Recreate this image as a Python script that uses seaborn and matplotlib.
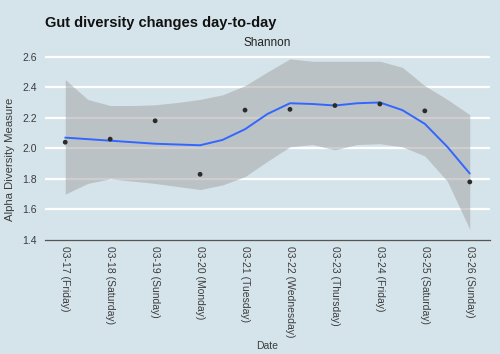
import numpy as np
import pandas as pd
import matplotlib.pyplot as plt
import seaborn as sns

# ---------------------------------------------------------------------------
# Data
# ---------------------------------------------------------------------------
dates = ["03-17 (Friday)", "03-18 (Saturday)", "03-19 (Sunday)", "03-20 (Monday)",
         "03-21 (Tuesday)", "03-22 (Wednesday)", "03-23 (Thursday)", "03-24 (Friday)",
         "03-25 (Saturday)", "03-26 (Sunday)"]
shannon = [2.04, 2.06, 2.18, 1.83, 2.25, 2.255, 2.28, 2.29, 2.245, 1.78]

# smoothed fit and its confidence band, read at every half day
fit_pos = [0, 0.5, 1, 1.5, 2, 2.5, 3, 3.5, 4, 4.5, 5, 5.5, 6, 6.5, 7, 7.5, 8, 8.5, 9]
fit_mid = [2.07, 2.06, 2.05, 2.04, 2.03, 2.025, 2.02, 2.055, 2.125, 2.225, 2.295,
           2.29, 2.28, 2.295, 2.30, 2.25, 2.16, 2.01, 1.835]
fit_hi = [2.45, 2.32, 2.28, 2.28, 2.285, 2.30, 2.32, 2.35, 2.41, 2.50, 2.585,
          2.57, 2.57, 2.57, 2.57, 2.53, 2.41, 2.32, 2.22]
fit_lo = [1.70, 1.77, 1.80, 1.785, 1.77, 1.75, 1.73, 1.76, 1.815, 1.915, 2.01,
          2.025, 1.99, 2.025, 2.03, 2.01, 1.95, 1.785, 1.47]

BG = "#d5e4eb"
TXT = "#3c3c3c"

sns.set_style("white")
plt.rcParams["font.family"] = ["Liberation Sans", "DejaVu Sans"]

pts = pd.DataFrame({"pos": np.arange(len(dates)), "value": shannon})
smooth = pd.DataFrame({"pos": fit_pos, "fit": fit_mid, "lo": fit_lo, "hi": fit_hi})

fig = plt.figure(figsize=(5, 3.54), dpi=100, facecolor=BG)
ax = fig.add_axes([0.09, 0.322, 0.89, 0.531])
ax.set_facecolor(BG)

# white horizontal grid
for yv in [1.6, 1.8, 2.0, 2.2, 2.4, 2.6]:
    ax.axhline(yv, color="white", lw=1.6, zorder=0)

ax.fill_between(smooth["pos"], smooth["lo"], smooth["hi"], color="#a6a6a6",
                alpha=0.55, lw=0, zorder=1)
sns.lineplot(data=smooth, x="pos", y="fit", ax=ax, color="#3366ff", lw=1.4, zorder=3)
sns.scatterplot(data=pts, x="pos", y="value", ax=ax, color="#2b2b2b", s=12,
                edgecolor="none", zorder=4)

ax.set_xlim(-0.45, 9.45)
ax.set_ylim(1.4, 2.63)
ax.set_xticks(range(len(dates)))
ax.set_xticklabels(dates, rotation=270, fontsize=7.5, color=TXT)
ax.set_yticks([1.4, 1.6, 1.8, 2.0, 2.2, 2.4, 2.6])
ax.set_yticklabels(["1.4", "1.6", "1.8", "2.0", "2.2", "2.4", "2.6"],
                   fontsize=7.5, color=TXT)
ax.tick_params(axis="x", direction="in", length=5, width=0.8, color=TXT, pad=4)
ax.tick_params(axis="y", length=0, pad=6)

for side in ["top", "right", "left"]:
    ax.spines[side].set_visible(False)
ax.spines["bottom"].set_color("#555555")
ax.spines["bottom"].set_linewidth(0.9)

ax.set_xlabel("Date", fontsize=7.5, color=TXT)
ax.xaxis.set_label_coords(0.5, -0.535)
ax.set_ylabel("Alpha Diversity Measure", fontsize=8.2, color=TXT)
ax.yaxis.set_label_coords(-0.067, 0.43)
ax.set_title("Shannon", fontsize=8.5, color="#222222", pad=4)

fig.text(0.09, 0.955, "Gut diversity changes day-to-day", fontsize=10.5,
         fontweight="bold", color="#111111", va="top")

fig.savefig("out.png", dpi=100, facecolor=BG)
